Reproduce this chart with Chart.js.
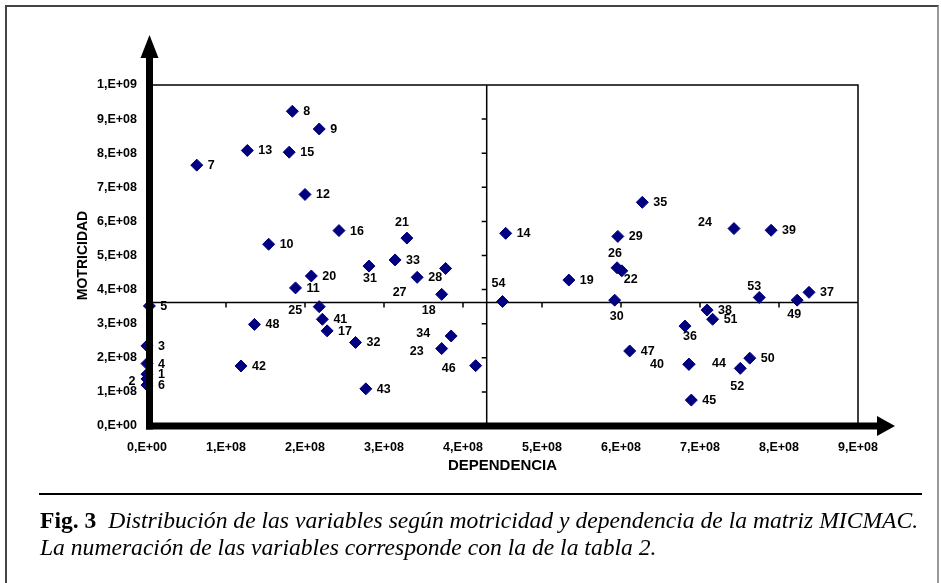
<!DOCTYPE html>
<html>
<head>
<meta charset="utf-8">
<script src="https://cdn.jsdelivr.net/npm/chart.js@4.4.1/dist/chart.umd.min.js"></script>
<style>
  html, body { margin: 0; padding: 0; background: #fff; }
  #wrap { position: relative; width: 941px; height: 583px; overflow: hidden; }
  #frame { position: absolute; left: 5px; top: 5px; width: 930px; height: 600px;
           border-left: 2px solid #444; border-top: 2px solid #444; border-right: 2px solid #999; }
  #chart { position: absolute; left: 0; top: 0; }
  #rule { position: absolute; left: 39px; top: 493px; width: 883px; height: 2px; background: #000; }
  #caption { position: absolute; left: 40px; top: 507px; color: #000; white-space: nowrap;
             font-family: 'Liberation Serif', 'Times New Roman', serif; font-size: 23.6px; line-height: 27px; font-style: italic; }
  #caption b { font-style: normal; }
</style>
</head>
<body>
<div id="wrap">
  <div id="frame"></div>
  <canvas id="chart" width="941" height="583"></canvas>
  <div id="rule"></div>
  <div id="caption"><b>Fig. 3</b>&nbsp; Distribución de las variables según motricidad y dependencia de la matriz MICMAC.<br>La numeración de las variables corresponde con la de la tabla 2.</div>
</div>
<script>
// ==================== DATOS ====================
const variables = [1,2,3,4,5,6,7,8,9,10,11,12,13,14,15,16,17,18,19,20,21,22,23,24,25,26,27,
                   28,29,30,31,32,33,34,35,36,37,38,39,40,41,42,43,44,45,46,47,48,49,50,51,52,53,54];

const dependencia = [0, 0, 0, 0, 0.03e8, 0, 0.63e8, 1.84e8, 2.18e8, 1.54e8, 1.88e8, 2.00e8, 1.27e8, 4.54e8,
                     1.80e8, 2.43e8, 2.28e8, 3.73e8, 5.34e8, 2.08e8, 3.29e8, 6.01e8, 3.73e8, 7.43e8, 2.18e8,
                     5.95e8, 3.78e8, 3.42e8, 5.96e8, 5.92e8, 2.81e8, 2.64e8, 3.14e8, 3.85e8, 6.27e8, 6.81e8,
                     8.38e8, 7.09e8, 7.90e8, 6.86e8, 2.22e8, 1.19e8, 2.77e8, 6.86e8, 6.89e8, 4.16e8, 6.11e8,
                     1.36e8, 8.23e8, 7.63e8, 7.16e8, 7.51e8, 7.75e8, 4.50e8];

const motricidad = [1.52e8, 1.38e8, 2.35e8, 1.83e8, 3.52e8, 1.20e8, 7.65e8, 9.23e8, 8.71e8, 5.33e8, 4.05e8,
                    6.79e8, 8.08e8, 5.65e8, 8.03e8, 5.73e8, 2.79e8, 3.86e8, 4.28e8, 4.40e8, 5.51e8, 4.55e8,
                    2.27e8, 5.79e8, 3.50e8, 4.64e8, 4.62e8, 4.36e8, 5.56e8, 3.69e8, 4.69e8, 2.45e8, 4.87e8,
                    2.64e8, 6.56e8, 2.93e8, 3.92e8, 3.40e8, 5.74e8, 1.81e8, 3.13e8, 1.76e8, 1.09e8, 1.81e8,
                    0.76e8, 1.77e8, 2.20e8, 2.98e8, 3.69e8, 1.99e8, 3.13e8, 1.69e8, 3.77e8, 3.65e8];

// valores donde se cruzan los ejes de cuadrantes
const crossDependencia = 4.30e8;
const crossMotricidad = 3.62e8;

const xTickLabels = ['0,E+00','1,E+08','2,E+08','3,E+08','4,E+08','5,E+08','6,E+08','7,E+08','8,E+08','9,E+08'];
const yTickLabels = ['0,E+00','1,E+08','2,E+08','3,E+08','4,E+08','5,E+08','6,E+08','7,E+08','8,E+08','9,E+08','1,E+09'];

// etiquetas que no van a la derecha del punto: desplazamiento [dx, dy] del centro del texto
const labelShift = {
    2: [-15, 3], 18: [-13, 16], 21: [-5, -16], 22: [9, 9], 23: [-25, 3], 24: [-29, -6], 25: [-24, 4],
    26: [-2, -14], 27: [-46, 24], 30: [2, 16], 31: [1, 12], 34: [-28, -2], 36: [5, 10], 40: [-32, 0],
    44: [30, -1], 46: [-27, 3], 49: [-3, 14], 52: [-3, 18], 53: [-5, -11], 54: [-4, -18]
};

const FONT = "'Liberation Sans', Arial, sans-serif";

// ==================== PLUGIN: ejes, cuadrantes, etiquetas ====================
const micmacPlugin = {
    id: 'micmac',
    beforeDatasetsDraw(chart) {
        const { ctx, chartArea: a, scales: { x, y } } = chart;
        const cx = x.getPixelForValue(crossDependencia);
        const cy = y.getPixelForValue(crossMotricidad);
        ctx.save();
        ctx.strokeStyle = '#000';
        ctx.lineWidth = 1.5;
        ctx.beginPath();
        ctx.moveTo(a.left, a.top); ctx.lineTo(a.right, a.top); ctx.lineTo(a.right, a.bottom);
        ctx.moveTo(cx, a.top); ctx.lineTo(cx, a.bottom);
        ctx.moveTo(a.left, cy); ctx.lineTo(a.right, cy);
        x.ticks.forEach(t => {
            if (t.value <= 0 || t.value >= x.max) return;
            const px = x.getPixelForValue(t.value);
            ctx.moveTo(px, cy); ctx.lineTo(px, cy + 5);
        });
        y.ticks.forEach(t => {
            if (t.value <= 0 || t.value >= y.max) return;
            const py = y.getPixelForValue(t.value);
            ctx.moveTo(cx, py); ctx.lineTo(cx - 5, py);
        });
        ctx.stroke();
        ctx.restore();
    },
    afterDatasetsDraw(chart) {
        const { ctx, chartArea: a } = chart;
        ctx.save();
        ctx.fillStyle = '#000';
        // eje vertical con flecha
        const ax = a.left + 2.5;
        ctx.fillRect(ax - 3.5, 58, 7, a.bottom + 3.5 - 58);
        ctx.beginPath();
        ctx.moveTo(ax - 9, 58); ctx.lineTo(ax, 35); ctx.lineTo(ax + 9, 58); ctx.closePath();
        ctx.fill();
        // eje horizontal con flecha
        ctx.fillRect(a.left - 1, a.bottom - 3.5, 877 - a.left + 1, 7);
        ctx.beginPath();
        ctx.moveTo(877, a.bottom - 10); ctx.lineTo(895, a.bottom); ctx.lineTo(877, a.bottom + 10); ctx.closePath();
        ctx.fill();

        // números de las variables
        const meta = chart.getDatasetMeta(0);
        ctx.font = 'bold 12.5px ' + FONT;
        ctx.textBaseline = 'middle';
        meta.data.forEach((pt, i) => {
            const id = variables[i];
            const s = labelShift[id];
            if (s) {
                ctx.textAlign = 'center';
                ctx.fillText(String(id), pt.x + s[0], pt.y + s[1]);
            } else {
                ctx.textAlign = 'left';
                ctx.fillText(String(id), pt.x + 11, pt.y + 0.5);
            }
        });
        ctx.restore();
    }
};

// ==================== GRÁFICO ====================
new Chart(document.getElementById('chart'), {
    type: 'scatter',
    data: {
        datasets: [{
            data: variables.map((v, i) => ({ x: dependencia[i], y: motricidad[i] })),
            pointStyle: 'rectRot',
            pointRadius: 6,
            pointHoverRadius: 6,
            backgroundColor: '#000080',
            borderColor: '#000080',
            borderWidth: 1,
            clip: false
        }]
    },
    options: {
        responsive: false,
        animation: false,
        devicePixelRatio: 1,
        layout: { padding: { left: 0, right: 83, top: 85, bottom: 97 } },
        plugins: { legend: { display: false }, tooltip: { enabled: false } },
        scales: {
            x: {
                type: 'linear', min: 0, max: 9e8,
                grid: { display: false, drawTicks: false },
                border: { display: false },
                ticks: {
                    stepSize: 1e8, autoSkip: false, maxRotation: 0, padding: 14, color: '#000',
                    font: { family: FONT, size: 12.5, weight: 'bold' },
                    callback: (v, i) => xTickLabels[i]
                },
                title: {
                    display: true, text: 'DEPENDENCIA', color: '#000',
                    font: { family: FONT, size: 15, weight: 'bold' },
                    padding: { top: 0, bottom: 11 }
                },
                afterFit: s => { s.height = 60; }
            },
            y: {
                type: 'linear', min: 0, max: 1e9,
                grid: { display: false, drawTicks: false },
                border: { display: false },
                ticks: {
                    stepSize: 1e8, autoSkip: false, padding: 10, color: '#000',
                    font: { family: FONT, size: 12.5, weight: 'bold' },
                    callback: (v, i) => yTickLabels[i]
                },
                title: {
                    display: true, text: 'MOTRICIDAD', color: '#000',
                    font: { family: FONT, size: 14, weight: 'bold' },
                    padding: { top: 74.6, bottom: 0 }
                },
                afterFit: s => { s.width = 147; }
            }
        }
    },
    plugins: [micmacPlugin]
});
</script>
</body>
</html>
